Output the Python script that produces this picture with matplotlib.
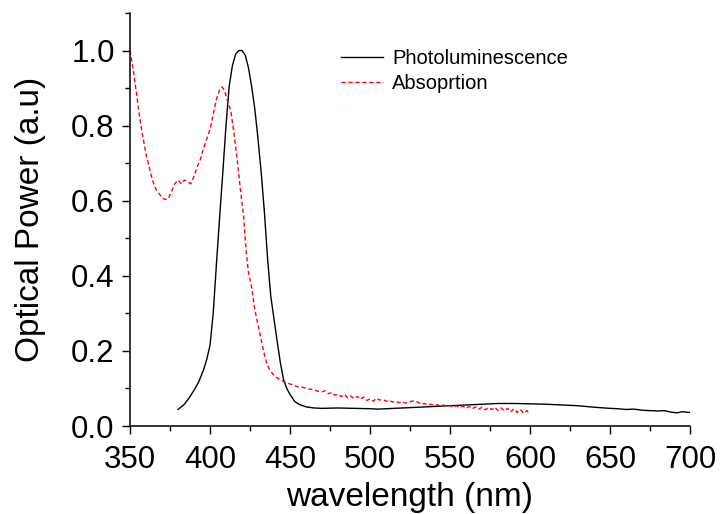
import matplotlib
matplotlib.use("Agg")
import matplotlib.pyplot as plt
from matplotlib.ticker import MultipleLocator

plt.rcParams['font.family'] = ['Liberation Sans', 'DejaVu Sans']

# photoluminescence spectrum (black)
pl_wl = [380, 384, 387, 390, 393, 396, 398, 400, 402, 404, 406, 408, 410, 412,
         414, 416, 418, 420, 422, 424, 426, 428, 430, 432, 434, 436, 438, 440,
         442, 444, 446, 448, 450, 453, 456, 460, 465, 470, 480, 490, 500, 505,
         510, 520, 530, 540, 550, 560, 570, 580, 590, 600, 610, 620, 630, 640,
         650, 655, 660, 665, 670, 675, 680, 684, 688, 692, 695, 700]
pl_val = [0.044, 0.058, 0.075, 0.095, 0.118, 0.150, 0.178, 0.215, 0.300, 0.430,
          0.555, 0.675, 0.800, 0.905, 0.960, 0.990, 1.000, 1.000, 0.988, 0.955,
          0.905, 0.845, 0.765, 0.675, 0.570, 0.445, 0.345, 0.285, 0.225, 0.168,
          0.123, 0.100, 0.084, 0.065, 0.057, 0.051, 0.048, 0.047, 0.048, 0.047,
          0.046, 0.045, 0.046, 0.048, 0.050, 0.052, 0.054, 0.056, 0.058, 0.060,
          0.060, 0.059, 0.058, 0.056, 0.054, 0.050, 0.047, 0.046, 0.044, 0.045,
          0.042, 0.041, 0.040, 0.041, 0.037, 0.035, 0.038, 0.036]

# absorption spectrum (red dashed)
ab_wl = [350, 352, 354, 356, 358, 360, 362, 364, 366, 368, 370, 372, 374, 376,
         378, 380, 382, 384, 386, 388, 390, 392, 394, 396, 398, 400, 402, 404,
         406, 407.5, 409, 411, 413, 415, 417, 419, 421, 422.5, 424, 426, 428,
         430, 432, 434, 436, 438, 440, 442, 444, 446, 448, 450, 452, 455, 458,
         461, 464, 467, 470, 472, 474, 476, 478, 480, 482, 484, 486, 488, 490,
         492, 494, 496, 498, 500, 502, 504, 506, 508, 510, 512, 514, 516, 518,
         520, 522, 524, 526, 528, 530, 532, 534, 536, 538, 540, 542, 544, 546,
         548, 550, 552, 554, 556, 558, 560, 562, 564, 566, 568, 570, 572, 574,
         576, 578, 580, 582, 584, 586, 588, 590, 592, 594, 596, 598, 600]
ab_val = [1.000, 0.950, 0.887, 0.824, 0.771, 0.725, 0.690, 0.655, 0.632, 0.620,
          0.608, 0.603, 0.606, 0.625, 0.645, 0.655, 0.645, 0.655, 0.650, 0.645,
          0.665, 0.690, 0.710, 0.740, 0.765, 0.790, 0.830, 0.870, 0.895, 0.903,
          0.895, 0.865, 0.840, 0.780, 0.710, 0.630, 0.560, 0.470, 0.410, 0.370,
          0.310, 0.270, 0.230, 0.190, 0.160, 0.145, 0.135, 0.128, 0.123, 0.118,
          0.115, 0.112, 0.109, 0.104, 0.103, 0.099, 0.097, 0.093, 0.091, 0.094,
          0.086, 0.089, 0.082, 0.085, 0.078, 0.084, 0.075, 0.080, 0.073, 0.079,
          0.071, 0.077, 0.068, 0.072, 0.066, 0.074, 0.069, 0.071, 0.066, 0.068,
          0.064, 0.066, 0.062, 0.065, 0.061, 0.063, 0.066, 0.067, 0.063, 0.058,
          0.060, 0.056, 0.058, 0.055, 0.057, 0.053, 0.056, 0.052, 0.055, 0.050,
          0.054, 0.049, 0.053, 0.047, 0.052, 0.046, 0.051, 0.045, 0.050, 0.043,
          0.049, 0.044, 0.050, 0.041, 0.048, 0.040, 0.047, 0.038, 0.046, 0.036,
          0.044, 0.034, 0.041, 0.032]

fig = plt.figure(figsize=(7.2, 5.14), dpi=100)
ax = fig.add_axes([130 / 720, 1 - 426 / 514, 560 / 720, 413 / 514])

ax.plot(pl_wl, pl_val, color='black', lw=1.0, label='Photoluminescence')
ax.plot(ab_wl, ab_val, color='red', lw=1.0, dashes=(3, 2), label='Absoprtion')

ax.set_xlim(350, 700)
ax.set_ylim(0, 1.1)
ax.xaxis.set_major_locator(MultipleLocator(50))
ax.xaxis.set_minor_locator(MultipleLocator(25))
ax.yaxis.set_minor_locator(MultipleLocator(0.1))
ax.set_yticks([0.0, 0.2, 0.4, 0.6, 0.8, 1.0])
ax.set_yticklabels(['0.0', '0.2', '0.4', '0.6', '0.8', '1.0'])

for s in ['top', 'right']:
    ax.spines[s].set_visible(False)
for s in ['left', 'bottom']:
    ax.spines[s].set_linewidth(1.1)

ax.tick_params(which='major', direction='out', length=6, width=1.0, labelsize=22.5)
ax.tick_params(which='minor', direction='out', length=3.5, width=1.0)
ax.tick_params(axis='x', which='major', pad=8)
ax.tick_params(axis='y', which='major', pad=5)

ax.set_xlabel('wavelength (nm)', fontsize=24, labelpad=5)
ax.set_ylabel('Optical Power (a.u)', fontsize=24, labelpad=18)

ax.legend(loc='upper left', bbox_to_anchor=(0.376, 0.913), frameon=False,
          fontsize=14.5, handlelength=2.1, handletextpad=0.45,
          labelspacing=0.32, borderpad=0, borderaxespad=0)

fig.savefig('out.png', dpi=100)
